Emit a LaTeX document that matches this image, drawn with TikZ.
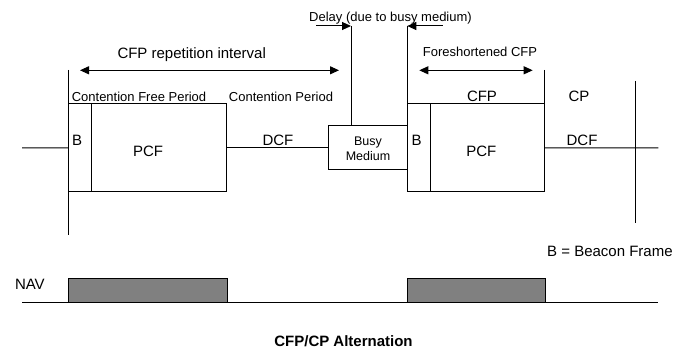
\documentclass[tikz,border=0pt]{standalone}
\usepackage{fontspec}
\setmainfont{Liberation Sans}
\usetikzlibrary{arrows.meta}
\begin{document}
\begin{tikzpicture}[x=1pt,y=-1pt, line width=1pt,
  big/.style={font=\fontsize{15}{15}\selectfont, anchor=base, inner sep=0pt},
  small/.style={font=\fontsize{13}{13}\selectfont, anchor=base, inner sep=0pt},
  frame/.style={draw, rectangle, inner sep=0pt, outer sep=0pt, anchor=north west},
  navbox/.style={frame, fill=gray},
  tip/.style={-{Triangle[length=9pt,width=8pt]}},
  dtip/.style={{Triangle[length=9pt,width=8pt]}-{Triangle[length=9pt,width=8pt]}}]
\useasboundingbox (0,0) rectangle (683,350);

% boxes
\node[frame, minimum width=23pt, minimum height=88.3pt] (B1) at (68,103.7) {};
\node[frame, minimum width=135pt, minimum height=88.3pt] (P1) at (91,103.7) {};
\node[frame, minimum width=79.3pt, minimum height=44.3pt] (busy) at (328,125.7) {};
\node[frame, minimum width=22.7pt, minimum height=88.3pt] (B2) at (407.3,103.7) {};
\node[frame, minimum width=114pt, minimum height=88.3pt] (P2) at (430,103.7) {};

% coordinates
\coordinate (l0) at (22,147.85);
\coordinate (lt) at (68,70);
\coordinate (lb) at (68,235);
\coordinate (rt) at (544,70);
\coordinate (r2t) at (635,81);
\coordinate (r2b) at (635,223);
\coordinate (rend) at (658.3,147.85);
\coordinate (dl) at (351,26);
\coordinate (dr) at (407.3,26);
\coordinate (dls) at (316,26);
\coordinate (drs) at (442.7,26);
\coordinate (a1) at (80,70.3);
\coordinate (a2) at (339,70.3);
\coordinate (a3) at (419.3,70.3);
\coordinate (a4) at (532.7,70.3);
\coordinate (n0) at (22,302);
\coordinate (n1) at (657.7,302);

% lines
\draw (l0) -- (B1.west);
\draw (lt) -- (lb);
\draw (P1.east) -- (busy.west);
\draw (P2.east) -- (rend);
\draw (rt) -- (P2.north east);
\draw (r2t) -- (r2b);
\draw (dl) -- (dl |- busy.north);
\draw (dr) -- (B2.north west);
\draw[tip] (dls) -- (dl);
\draw[tip] (drs) -- (dr);
\draw[dtip] (a1) -- (a2);
\draw[dtip] (a3) -- (a4);

% NAV
\draw (n0) -- (n1);
\node[navbox, minimum width=159pt, minimum height=23.3pt] (nav1) at (68.3,278.7) {};
\node[navbox, minimum width=137.6pt, minimum height=23.3pt] (nav2) at (407.7,278.7) {};

% texts
\node[small] (tdelay) at (390.5,22) {Delay (due to busy medium)};
\node[big] (trep) at (191.7,58.7) {CFP repetition interval};
\node[small] (tcfp1) at (139,101.7) {Contention Free Period};
\node[small] (tcp1) at (281,101.7) {Contention Period};
\node[big, anchor=base west] (tb1) at (71.5,145.7) {B};
\node[big] (tpcf1) at (148,156.3) {PCF};
\node[big] (tdcf1) at (278,145.7) {DCF};
\node[font=\fontsize{12.5}{12.5}\selectfont, anchor=base, inner sep=0pt] (tbusy) at (368,145.7) {Busy};
\node[font=\fontsize{12.5}{12.5}\selectfont, anchor=base, inner sep=0pt] (tmed) at (368,160.5) {Medium};
\node[small] (tfore) at (480,56.7) {Foreshortened CFP};
\node[big] (tcfp2) at (482,101.7) {CFP};
\node[big, anchor=base west] (tb2) at (411,145.7) {B};
\node[big] (tpcf2) at (481.3,156.3) {PCF};
\node[big] (tcp2) at (579,101.7) {CP};
\node[big] (tdcf2) at (582,145.3) {DCF};
\node[big, anchor=base west] (tbeacon) at (546.7,256) {B = Beacon Frame};
\node[big, anchor=base west] (tnav) at (14.5,289) {NAV};
\node[big, font=\bfseries\fontsize{15}{15}\selectfont] (ttitle) at (343.5,346) {CFP/CP Alternation};
\end{tikzpicture}
\end{document}
